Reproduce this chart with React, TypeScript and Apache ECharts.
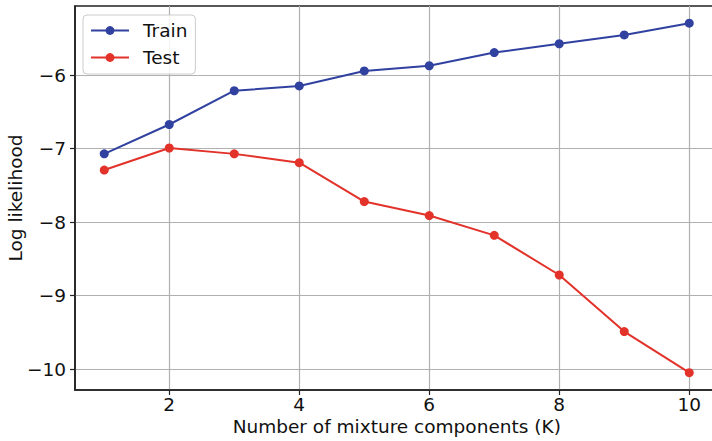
import React, { useEffect, useRef } from "react";
import * as echarts from "echarts";

const components = [1, 2, 3, 4, 5, 6, 7, 8, 9, 10];
const trainLL = [-7.07, -6.67, -6.21, -6.145, -5.94, -5.87, -5.69, -5.57, -5.45, -5.29];
const testLL = [-7.29, -6.99, -7.07, -7.19, -7.72, -7.91, -8.18, -8.72, -9.49, -10.05];
const xTicks = [2, 4, 6, 8, 10];
const yTicks = [-10, -9, -8, -7, -6];

const FONT = "DejaVu Sans";
const fmt = (v: number) => String(v).replace("-", "\u2212");

export default function App() {
  const ref = useRef<HTMLDivElement>(null);
  useEffect(() => {
    const chart = echarts.init(ref.current!, undefined, { renderer: "svg" });
    const axisCommon = {
      axisLine: { show: true, lineStyle: { color: "#222", width: 1.6 } },
      axisTick: { show: true, length: 5, lineStyle: { color: "#222", width: 1.2 } },
      splitLine: { show: true, lineStyle: { color: "#b0b0b0", width: 1.2 } },
    };
    chart.setOption({
      animation: false,
      backgroundColor: "#fff",
      textStyle: { fontFamily: FONT },
      grid: {
        left: 75,
        top: 6,
        width: 643.5,
        height: 384,
        containLabel: false,
        outerBoundsMode: "none",
        show: true,
        borderColor: "#222",
        borderWidth: 1.6,
        backgroundColor: "transparent",
      },
      legend: {
        left: 83,
        top: 15,
        orient: "vertical",
        itemWidth: 38,
        itemHeight: 11,
        itemGap: 8,
        padding: [6, 8, 7, 7],
        backgroundColor: "rgba(255,255,255,0.85)",
        borderColor: "#cccccc",
        borderWidth: 1,
        borderRadius: 4,
        textStyle: { fontFamily: FONT, fontSize: 18.5, color: "#111", padding: [0, 0, 0, 9] },
        data: ["Train", "Test"],
      },
      xAxis: {
        type: "value",
        min: 0.55,
        max: 10.45,
        name: "Number of mixture components (K)",
        nameLocation: "middle",
        nameGap: 27,
        nameMoveOverlap: false,
        nameTextStyle: { fontFamily: FONT, fontSize: 18.5, color: "#111" },
        ...axisCommon,
        axisLine: { show: true, onZero: false, lineStyle: { color: "#222", width: 1.6 } },
        axisTick: { ...axisCommon.axisTick, customValues: xTicks },
        axisLabel: {
          customValues: xTicks,
          fontFamily: FONT,
          fontSize: 18.5,
          color: "#111",
          margin: 5,
          formatter: fmt,
        },
      },
      yAxis: {
        type: "value",
        min: -10.286,
        max: -5.056,
        name: "Log likelihood",
        nameLocation: "middle",
        nameGap: 50,
        nameMoveOverlap: false,
        nameTextStyle: { fontFamily: FONT, fontSize: 18.5, color: "#111" },
        ...axisCommon,
        axisLine: { show: true, onZero: false, lineStyle: { color: "#222", width: 1.6 } },
        axisTick: { ...axisCommon.axisTick, customValues: yTicks },
        axisLabel: {
          customValues: yTicks,
          fontFamily: FONT,
          fontSize: 18.5,
          color: "#111",
          margin: 9,
          formatter: fmt,
        },
      },
      series: [
        {
          name: "Train",
          type: "line",
          data: components.map((k, i) => [k, trainLL[i]]),
          symbol: "circle",
          symbolSize: 9,
          color: "#3041a0",
          lineStyle: { width: 2, color: "#3041a0" },
          itemStyle: { color: "#3041a0" },
        },
        {
          name: "Test",
          type: "line",
          data: components.map((k, i) => [k, testLL[i]]),
          symbol: "circle",
          symbolSize: 9,
          color: "#e2322a",
          lineStyle: { width: 2, color: "#e2322a" },
          itemStyle: { color: "#e2322a" },
        },
      ],
    });
    return () => chart.dispose();
  }, []);
  return (
    <div
      ref={ref}
      style={{ position: "fixed", left: 0, top: 0, width: 712, height: 441 }}
    />
  );
}
